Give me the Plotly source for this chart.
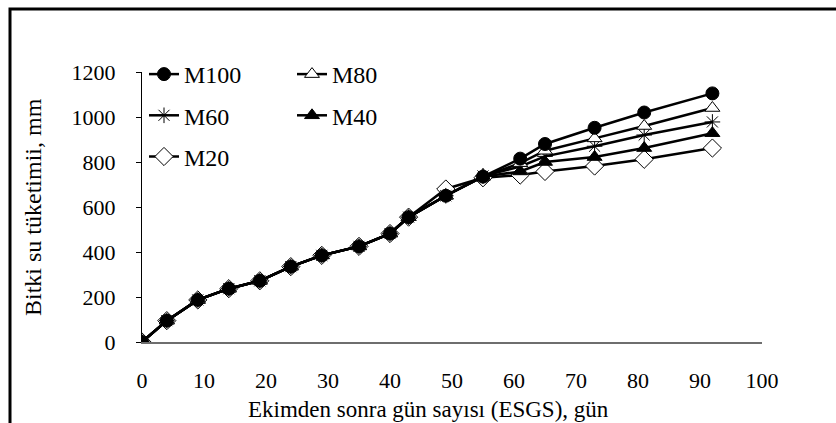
import plotly.graph_objects as go

days = [0, 4, 9, 14, 19, 24, 29, 35, 40, 43, 49, 55, 61, 65, 73, 81, 92]
m100 = [0, 95, 187, 237, 272, 335, 385, 425, 482, 555, 650, 735, 815, 880, 952, 1020, 1105]
m80 = [0, 95, 187, 237, 272, 335, 385, 425, 482, 555, 650, 735, 795, 850, 905, 960, 1040]
m60 = [0, 95, 187, 237, 272, 335, 385, 425, 482, 555, 650, 738, 780, 825, 870, 920, 978]
m40 = [0, 95, 187, 237, 272, 335, 385, 425, 482, 555, 650, 735, 758, 800, 822, 862, 928]
m20 = [0, 95, 187, 237, 272, 335, 385, 425, 482, 555, 680, 730, 742, 758, 782, 812, 862]

names = ["M100", "M80", "M60", "M40", "M20"]
series = [m100, m80, m60, m40, m20]
x_ticks = [0, 10, 20, 30, 40, 50, 60, 70, 80, 90, 100]
y_ticks = [0, 200, 400, 600, 800, 1000, 1200]
x_title = "Ekimden sonra gün sayısı (ESGS), gün"
y_title = "Bitki su tüketimii, mm"

FONT = "Liberation Serif"
FS = 24
TFS = 23

styles = {
    "M100": dict(symbol="circle", size=13, color="black", line=dict(color="black", width=1)),
    "M80": dict(symbol="triangle-up", size=13, color="white", line=dict(color="black", width=1)),
    "M60": dict(symbol="asterisk-open", size=13, color="black", line=dict(color="black", width=1)),
    "M40": dict(symbol="triangle-up", size=13, color="black", line=dict(color="black", width=1)),
    "M20": dict(symbol="diamond", size=14, color="white", line=dict(color="black", width=1)),
}
legend_of = {"M100": "legend", "M60": "legend", "M20": "legend", "M80": "legend2", "M40": "legend2"}

fig = go.Figure()
# draw M20 first so M100 sits on top, keep legend order with legendrank
for rank, (name, vals) in reversed(list(enumerate(zip(names, series)))):
    fig.add_trace(go.Scatter(
        x=days, y=vals, name=name, mode="lines+markers",
        line=dict(color="black", width=2.5),
        marker=styles[name],
        legend=legend_of[name], legendgroup=name, legendrank=rank + 1,
    ))

L, R, T, B = 142, 74, 72, 81
W, H = 836, 423
pw = W - L - R
ph = H - T - B

def px_x(p):
    return (p - L) / pw

def px_y(p):
    return (H - B - p) / ph

fig.update_layout(
    width=W, height=H,
    margin=dict(l=L, r=R, t=T, b=B),
    paper_bgcolor="white", plot_bgcolor="white",
    font=dict(family=FONT, size=FS, color="black"),
    showlegend=True,
    legend=dict(x=px_x(144), y=px_y(52), xanchor="left", yanchor="top",
                bgcolor="rgba(0,0,0,0)", tracegroupgap=7, traceorder="grouped",
                font=dict(family=FONT, size=FS), itemwidth=30),
    legend2=dict(x=px_x(292), y=px_y(52), xanchor="left", yanchor="top",
                 bgcolor="rgba(0,0,0,0)", tracegroupgap=7, traceorder="grouped",
                 font=dict(family=FONT, size=FS), itemwidth=30),
    xaxis=dict(range=[0, 100], tickvals=x_ticks, ticks="", showgrid=False,
               zeroline=False, showline=True, linecolor="#6e6e6e", linewidth=2,
               ticklabelstandoff=18, tickfont=dict(family=FONT, size=22)),
    yaxis=dict(range=[0, 1200], tickvals=y_ticks, ticks="outside", ticklen=5,
               tickcolor="black", showgrid=False, zeroline=False, showline=True,
               linecolor="black", linewidth=1, ticklabelstandoff=16,
               tickfont=dict(family=FONT, size=22)),
    shapes=[dict(type="rect", xref="paper", yref="paper",
                 x0=px_x(10), x1=px_x(900), y0=px_y(500), y1=px_y(9),
                 line=dict(color="black", width=3), fillcolor="rgba(0,0,0,0)", layer="below")],
    annotations=[
        dict(text=x_title, xref="paper", yref="paper", x=px_x(428), y=px_y(409),
             showarrow=False, xanchor="center", yanchor="middle",
             font=dict(family=FONT, size=TFS)),
        dict(text=y_title, xref="paper", yref="paper", x=px_x(33), y=px_y(207),
             showarrow=False, xanchor="center", yanchor="middle", textangle=-90,
             font=dict(family=FONT, size=FS)),
    ],
)

fig.write_html("out.html")
